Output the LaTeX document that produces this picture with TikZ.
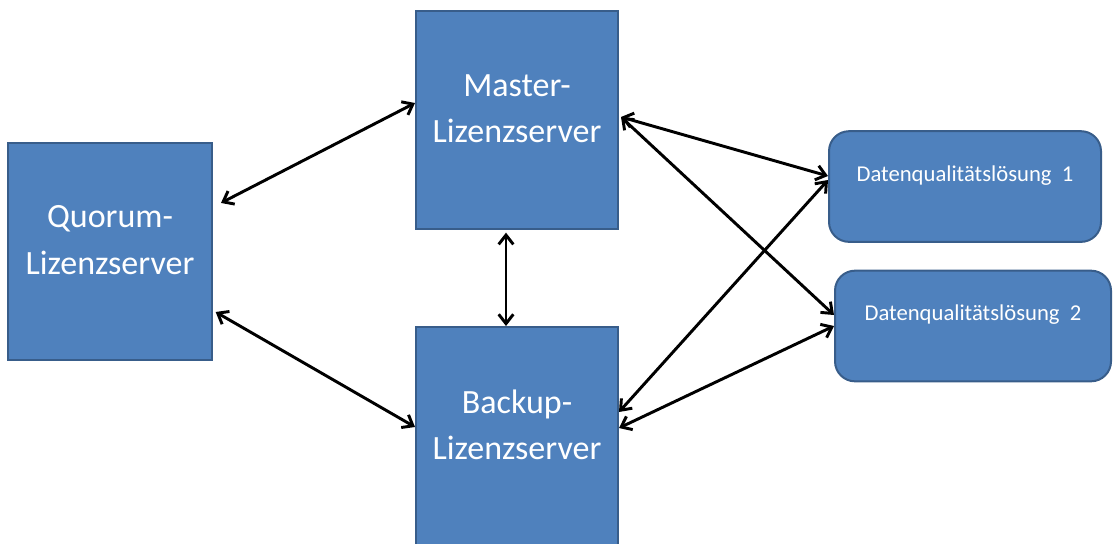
\documentclass[tikz,border=0pt]{standalone}
\usepackage{fontspec}
\setmainfont{Carlito}
\usetikzlibrary{arrows.meta, positioning, calc}
\definecolor{boxfill}{HTML}{4F81BD}
\definecolor{boxline}{HTML}{385D8A}

\begin{document}
\begin{tikzpicture}[
    server/.style={rectangle, draw=boxline, line width=1.5pt, fill=boxfill, minimum width=151.5pt, minimum height=163.5pt, align=center, text depth=17pt, font=\fontsize{25.5}{35}\selectfont, text=white},
    client/.style={rectangle, rounded corners=15pt, draw=boxline, line width=1.5pt, fill=boxfill, minimum width=204pt, minimum height=83pt, text height=12pt, text depth=20pt, font=\fontsize{17}{20}\selectfont, text=white},
    arr/.style={{Straight Barb[length=7pt,width=11pt]}-{Straight Barb[length=7pt,width=11pt]}, line width=2.2pt, color=black},
]
    \useasboundingbox (0,0) rectangle (834.75pt,-407.25pt);
    \node[server] (master) at (387.75pt,-90pt) {Master-\\Lizenzserver};
    \node[server, below=72pt of master] (backup) {Backup-\\Lizenzserver};
    \node[server, minimum width=153pt, minimum height=162.75pt] (quorum) at (82.5pt,-188.6pt) {Quorum-\\Lizenzserver};
    \node[client] (dq1) at (723.75pt,-139.9pt) {Datenqualitätslösung\ \ 1};
    \node[client, minimum width=207pt] (dq2) at (729.75pt,-244.5pt) {Datenqualitätslösung\ \ 2};
    \draw[arr] ([xshift=6pt,yshift=36.4pt]quorum.east) -- ([yshift=12.75pt]master.west);
    \draw[arr] ([xshift=2pt,yshift=-45.4pt]quorum.east) -- ([yshift=6.75pt]backup.west);
    \draw[arr] ([xshift=-8.25pt,yshift=-2pt]master.south) -- ([xshift=-8.25pt]backup.north);
    \draw[arr] ([xshift=1.5pt,yshift=2.25pt]master.east) -- ([yshift=7.9pt]dq1.west);
    \draw[arr] ([xshift=1.5pt,yshift=2.25pt]master.east) -- ([yshift=8.25pt]dq2.west);
    \draw[arr] ([yshift=18pt]backup.east) -- ([yshift=4.9pt]dq1.west);
    \draw[arr] ([yshift=6pt]backup.east) -- (dq2.west);
\end{tikzpicture}
\end{document}
